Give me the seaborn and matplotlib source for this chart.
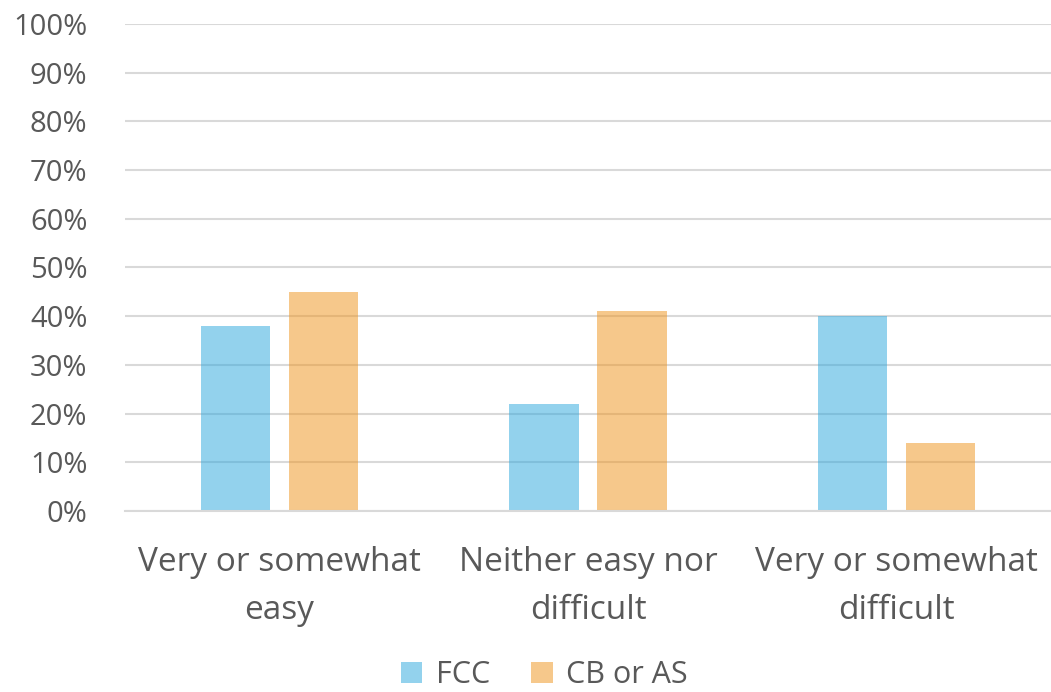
import matplotlib
matplotlib.use("Agg")
import matplotlib.pyplot as plt
import seaborn as sns
import pandas as pd
from matplotlib.ticker import PercentFormatter

categories = ["Very or somewhat\neasy", "Neither easy nor\ndifficult", "Very or somewhat\ndifficult"]
series = ["FCC", "CB or AS"]
fcc_values = [38, 22, 40]
cb_as_values = [45, 41, 14]
y_ticks = list(range(0, 101, 10))

df = pd.DataFrame({
    "category": categories * 2,
    "group": [series[0]] * 3 + [series[1]] * 3,
    "value": fcc_values + cb_as_values,
})

sns.set_theme(style="white")
plt.rcParams["font.family"] = ["Open Sans", "DejaVu Sans"]
text_color = "#595959"
grid_color = "#D9D9D9"

fig = plt.figure(figsize=(10.51, 6.92), dpi=100)
ax = fig.add_axes([0.119, 0.2616, 0.881, 0.7037])

palette = {"FCC": "#29A7DD", "CB or AS": "#EF9319"}
sns.barplot(data=df, x="category", y="value", hue="group", hue_order=series,
            palette=palette, saturation=1, alpha=0.5, width=0.57, gap=0.21,
            linewidth=0, ax=ax, legend=True)

ax.set_ylim(0, 100)
ax.set_xlim(-0.5, 2.5)
ax.set_yticks(y_ticks)
ax.yaxis.set_major_formatter(PercentFormatter(decimals=0))
ax.set_axisbelow(True)
ax.yaxis.grid(True, color=grid_color, linewidth=1.5)
for side in ["top", "right", "left"]:
    ax.spines[side].set_visible(False)
ax.spines["bottom"].set_color(grid_color)
ax.spines["bottom"].set_linewidth(1.5)
ax.set_xlabel("")
ax.set_ylabel("")
ax.tick_params(axis="y", length=0, pad=27, labelsize=21, labelcolor=text_color)
ax.tick_params(axis="x", length=0, pad=25, labelsize=24, labelcolor=text_color)
for lbl in ax.get_xticklabels():
    lbl.set_linespacing(1.6)

handles, labels = ax.get_legend_handles_labels()
ax.legend_.remove()
fig.legend(handles, labels, loc="center", bbox_to_anchor=(0.518, 0.024),
           ncol=2, frameon=False, fontsize=22, labelcolor=text_color,
           handlelength=0.7, handleheight=0.7, handletextpad=0.45,
           columnspacing=1.35, borderpad=0.0)

fig.savefig("out.png", dpi=100)
